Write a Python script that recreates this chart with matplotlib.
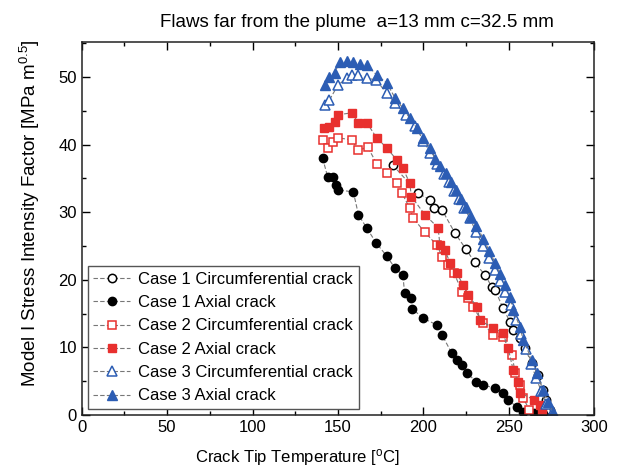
import matplotlib.pyplot as plt
from matplotlib.ticker import MultipleLocator

plt.rcParams['font.family'] = ['Liberation Sans', 'DejaVu Sans']

# Case 1
c1c_T = [182, 197, 204, 206, 211, 218.5, 225, 230, 236, 240, 242, 246.6, 250.7,
         252.5, 256.6, 259.5, 263.6, 267, 270, 272, 274]
c1c_K = [37, 32.8, 31.8, 30.6, 30.3, 26.9, 24.5, 22.6, 20.7, 19, 18.5, 15.8, 13.8,
         12.6, 11.4, 9.9, 7.7, 5.9, 3.7, 2.2, 0.8]
c1a_T = [141, 144, 147, 149, 150, 159, 162, 167, 172.5, 178.6, 183.4, 188, 189, 193,
         193.5, 200, 208, 211, 216.5, 219.6, 222.6, 225.5, 231, 235, 242, 246.6,
         249.6, 254.8, 258.4, 265, 270]
c1a_K = [38, 35.2, 35.2, 34, 33.3, 33, 29.6, 27.6, 25.4, 23.5, 21.7, 20.7, 18, 17.3,
         15.7, 14.3, 13.3, 11.8, 9.2, 8.1, 7.4, 6.2, 4.9, 4.4, 4, 3.3,
         2.2, 1.2, 0.5, 0.3, 0.2]
# Case 2
c2c_T = [141, 144, 147, 150, 158, 162, 167.5, 172.6, 178.6, 184.5, 187.5, 192, 194,
         201, 208, 211, 214.4, 218, 222.6, 226, 229, 235, 240.8, 246.6, 251.9, 253.7,
         256.6, 258.4, 262]
c2c_K = [40.7, 39.5, 40.4, 41, 40.7, 39.2, 39.6, 37.2, 35.8, 34.3, 32.8, 30.6, 29.1,
         27, 25.1, 23.4, 22.2, 21, 18.2, 17.3, 16, 13.6, 11.8, 11.5, 8.9, 6.2,
         4.4, 2.5, 0.8]
c2a_T = [142, 145, 148, 150, 158, 162, 167, 172.6, 178.6, 184.5, 188, 192, 193, 201,
         208.6, 209.7, 212.6, 215.6, 219.7, 223.2, 226, 231.4, 233, 240.8, 246.6,
         249.6, 252.5, 255.4, 256.6, 265, 268, 269.5]
c2a_K = [42.4, 42.6, 43.3, 44.4, 44.7, 43.2, 43.2, 41, 39.5, 37.7, 36.5, 34.3, 32.3,
         29.6, 27.7, 25.1, 24.4, 22.5, 21, 19.2, 17.8, 16, 14, 12.9, 12.1,
         9.9, 6.7, 4.9, 3.3, 2.2, 1.5, 0.7]
# Case 3
c3c_T = [142.4, 145, 150, 155, 158, 162, 167, 172, 178.6, 183.4, 190, 195, 200, 204,
         208, 212, 215, 218, 221, 224, 227, 231, 235, 238.5, 242, 245, 248, 251, 254,
         257, 260, 263, 266, 269, 272, 275]
c3c_K = [45.9, 46.6, 48.8, 49.8, 50.3, 50.3, 49.8, 49.6, 47.6, 46.1, 44.4, 42.8, 40.6,
         38.8, 37.2, 35.6, 34.5, 33.2, 31.9, 30.6, 29.2, 27, 25, 23.2, 21.4, 19.8,
         18.2, 16.2, 14, 12, 9.8, 7.6, 5.5, 3.5, 1.6, 0.3]
c3a_T = [142.4, 145, 148, 151, 155, 159, 163, 167, 172.6, 178.6, 183.4, 188, 192, 196,
         200, 204, 207, 210, 213, 216, 219, 222, 225, 228, 231, 235, 238.5, 242, 245,
         248, 250.7, 252.5, 256.6, 258.4, 263.6, 266.5, 270, 273, 276]
c3a_K = [48.8, 50, 50.6, 52.2, 52.3, 52.2, 51.9, 51.8, 50.3, 49.1, 46.9, 45.4, 43.9,
         42.5, 41, 39.5, 37.8, 36.8, 35.8, 34.5, 33.3, 32, 30.7, 29.3, 28, 26.1, 24.3,
         22.5, 20.8, 19.2, 17.5, 15.5, 13, 11.1, 8.1, 6.2, 3.7, 1.9, 0.4]

red = '#e8302e'
blue = '#2c5db4'
line_kw = dict(color='#777777', lw=0.8, ls=(0, (4, 2)))

fig = plt.figure(figsize=(6.19, 4.70), dpi=100)
ax = fig.add_axes([0.132, 0.117, 0.828, 0.794])

ax.plot(c1c_T, c1c_K, marker='o', ms=6, mfc='white', mec='black', mew=1.1,
        label='Case 1 Circumferential crack', **line_kw)
ax.plot(c1a_T, c1a_K, marker='o', ms=6, mfc='black', mec='black',
        label='Case 1 Axial crack', **line_kw)
ax.plot(c2c_T, c2c_K, marker='s', ms=5.5, mfc='white', mec=red, mew=1.1,
        label='Case 2 Circumferential crack', **line_kw)
ax.plot(c2a_T, c2a_K, marker='s', ms=5.8, mfc=red, mec=red,
        label='Case 2 Axial crack', **line_kw)
ax.plot(c3c_T, c3c_K, marker='^', ms=7, mfc='white', mec=blue, mew=1.1,
        label='Case 3 Circumferential crack', **line_kw)
ax.plot(c3a_T, c3a_K, marker='^', ms=7.3, mfc=blue, mec=blue,
        label='Case 3 Axial crack', **line_kw)

ax.set_xlim(0, 300)
ax.set_ylim(0, 55.2)
ax.xaxis.set_major_locator(MultipleLocator(50))
ax.xaxis.set_minor_locator(MultipleLocator(25))
ax.yaxis.set_major_locator(MultipleLocator(10))
ax.yaxis.set_minor_locator(MultipleLocator(5))
ax.tick_params(which='both', direction='in', top=True, right=True, labelsize=12)
ax.tick_params(which='major', length=6, width=1)
ax.tick_params(which='minor', length=3, width=1)
for s in ax.spines.values():
    s.set_linewidth(1.1)
    s.set_color('#222222')

ax.set_xlabel('Crack Tip Temperature [$\\mathregular{^{o}}$C]', fontsize=12)
ax.xaxis.set_label_coords(0.42, -0.085)
ax.set_ylabel('Model I Stress Intensity Factor [MPa m$\\mathregular{^{0.5}}$]', fontsize=13.5)
ax.yaxis.set_label_coords(-0.078, 0.54)
t = ax.set_title('Flaws far from the plume  a=13 mm c=32.5 mm', fontsize=13.5, pad=11)
t.set_x(0.537)

leg = ax.legend(loc='lower left', fontsize=12, frameon=True, fancybox=False,
                edgecolor='#555555', framealpha=1, handlelength=2.2,
                labelspacing=0.5, borderaxespad=0.35, handletextpad=0.5,
                borderpad=0.35)
leg.get_frame().set_linewidth(1)

fig.savefig('out.png', dpi=100)
